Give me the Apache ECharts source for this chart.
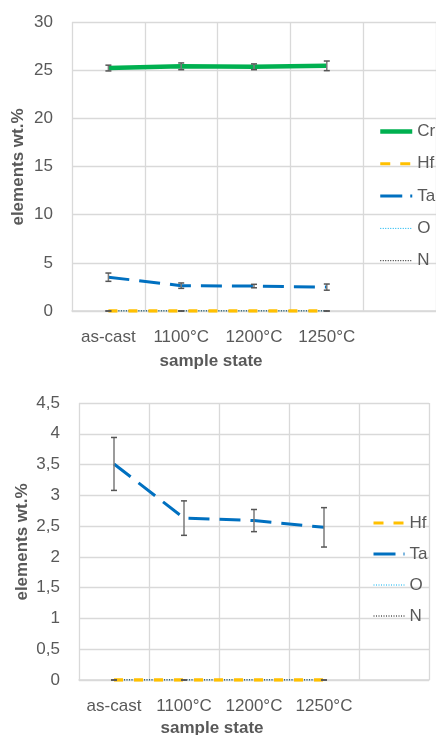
<!DOCTYPE html>
<html>
<head>
<meta charset="utf-8">
<script src="https://cdn.jsdelivr.net/npm/echarts@6/dist/echarts.min.js"></script>
<style>html,body{margin:0;padding:0;background:#fff;}#c{width:436px;height:735px;}</style>
</head>
<body>
<div id="c"></div>
<script>
const categories = ['as-cast', '1100°C', '1200°C', '1250°C', ''];
const cr = [25.22, 25.4, 25.35, 25.45];
const crErr = [0.3, 0.35, 0.3, 0.5];
const hf = [0, 0, 0, 0];
const ta = [3.51, 2.63, 2.59, 2.48];
const taErr = [0.43, 0.28, 0.18, 0.32];
const o = [0, 0, 0, 0];
const n = [0, 0, 0, 0];
const nErr = [0, 0, null, 0];
const yTicks1 = ['0', '5', '10', '15', '20', '25', '30'];
const yTicks2 = ['0', '0,5', '1', '1,5', '2', '2,5', '3', '3,5', '4', '4,5'];

const FONT = 'Liberation Sans';
const TXT = '#595959';
const GRID = '#D9D9D9';

function errData(vals, errs) {
  const out = [];
  vals.forEach((v, i) => { if (errs[i] !== null && errs[i] !== undefined) out.push([i, v, errs[i]]); });
  return out;
}
function renderErr(params, api) {
  const i = api.value(0), v = api.value(1), e = api.value(2);
  const p1 = api.coord([i, v + e]);
  const p2 = api.coord([i, v - e]);
  const hw = 3;
  const st = { stroke: '#7a7a7a', lineWidth: 1.5 };
  return {
    type: 'group',
    children: [
      { type: 'line', shape: { x1: p1[0], y1: p1[1], x2: p2[0], y2: p2[1] }, style: st },
      { type: 'line', shape: { x1: p1[0] - hw, y1: p1[1], x2: p1[0] + hw, y2: p1[1] }, style: { stroke: '#555', lineWidth: 1.5 } },
      { type: 'line', shape: { x1: p2[0] - hw, y1: p2[1], x2: p2[0] + hw, y2: p2[1] }, style: { stroke: '#555', lineWidth: 1.5 } }
    ]
  };
}
function xAxisCfg(gi, margin) {
  return {
    type: 'category', gridIndex: gi, data: categories, boundaryGap: true,
    axisLine: { lineStyle: { color: GRID, width: 1.5 } },
    axisTick: { show: false },
    axisLabel: { color: TXT, fontFamily: FONT, fontSize: 17, margin: margin, interval: 0 },
    splitLine: { show: true, lineStyle: { color: GRID, width: 1.3 } }
  };
}
function yAxisCfg(gi, max, interval, ticks) {
  return {
    type: 'value', gridIndex: gi, min: 0, max: max, interval: interval,
    axisLine: { show: false }, axisTick: { show: false },
    axisLabel: { color: TXT, fontFamily: FONT, fontSize: 17, margin: 19,
      formatter: v => ticks[Math.round(v / interval)] },
    splitLine: { lineStyle: { color: GRID, width: 1.3 } }
  };
}
function lineSeries(name, data, gi, style, z) {
  return {
    name: name, type: 'line', xAxisIndex: gi, yAxisIndex: gi, data: data,
    symbol: 'none', showSymbol: false, lineStyle: style, itemStyle: { color: style.color },
    animation: false, z: z || 2
  };
}
function errSeries(vals, errs, gi) {
  return {
    type: 'custom', xAxisIndex: gi, yAxisIndex: gi, data: errData(vals, errs),
    renderItem: renderErr, encode: { x: 0, y: 1 }, z: 5, animation: false, silent: true
  };
}
const sCr = { color: '#00B050', width: 4.5 };
const sHf = { color: '#FFC000', width: 3.5, type: [9, 11] };
const sTa = { color: '#0070C0', width: 3, type: [21, 10] };
const sO = { color: '#00B0F0', width: 1, type: [1, 1.5] };
const sN = { color: '#000000', width: 1, type: [1, 1.5] };

const legendText = { color: TXT, fontFamily: FONT, fontSize: 17 };
const legendCommon = {
  orient: 'vertical', itemHeight: 17, textStyle: legendText, selectedMode: false, padding: 0,
  itemStyle: { color: 'rgba(0,0,0,0)', borderWidth: 0, borderColor: 'rgba(0,0,0,0)' }
};
const legendItems = {
  Cr: { name: 'Cr', lineStyle: { width: 4.5, color: '#00B050' } },
  Hf: { name: 'Hf', lineStyle: { width: 3, color: '#FFC000', type: [10, 10] } },
  Ta: { name: 'Ta', lineStyle: { width: 3, color: '#0070C0', type: [22, 8, 2, 6] } },
  O: { name: 'O', lineStyle: { width: 1, color: '#00B0F0', type: [1, 1.5] } },
  N: { name: 'N', lineStyle: { width: 1, color: '#000000', type: [1, 1.5] } }
};

const option = {
  animation: false,
  grid: [
    { left: 72, top: 22, width: 364, height: 289 },
    { left: 79, top: 403, width: 350, height: 277 }
  ],
  xAxis: [xAxisCfg(0, 18), xAxisCfg(1, 18)],
  yAxis: [yAxisCfg(0, 30, 5, yTicks1), yAxisCfg(1, 4.5, 0.5, yTicks2)],
  legend: [
    Object.assign({ data: ['Cr', 'Hf', 'Ta', 'O', 'N'].map(k => legendItems[k]), left: 378, top: 123, itemWidth: 32, itemGap: 15.3 }, legendCommon),
    Object.assign({ data: ['Hf', 'Ta', 'O', 'N'].map(k => legendItems[k]), left: 372, top: 514.5, itemWidth: 31, itemGap: 14 }, legendCommon)
  ],
  series: [
    lineSeries('Cr', cr, 0, sCr),
    lineSeries('O', o, 0, sO),
    lineSeries('N', n, 0, sN),
    lineSeries('Hf', hf, 0, sHf, 3),
    lineSeries('Ta', ta, 0, sTa, 3),
    errSeries(cr, crErr, 0),
    errSeries(ta, taErr, 0),
    errSeries(n, nErr, 0),
    lineSeries('O', o, 1, sO),
    lineSeries('N', n, 1, sN),
    lineSeries('Hf', hf, 1, sHf, 3),
    lineSeries('Ta', ta, 1, sTa, 3),
    errSeries(ta, taErr, 1),
    errSeries(n, nErr, 1)
  ],
  graphic: [
    { type: 'text', x: 211, y: 361, style: { text: 'sample state', font: 'bold 17px "Liberation Sans"', fill: TXT, align: 'center', verticalAlign: 'middle' } },
    { type: 'text', x: 18, y: 167, rotation: Math.PI / 2, style: { text: 'elements wt.%', font: 'bold 17px "Liberation Sans"', fill: TXT, align: 'center', verticalAlign: 'middle' } },
    { type: 'text', x: 212, y: 728, style: { text: 'sample state', font: 'bold 17px "Liberation Sans"', fill: TXT, align: 'center', verticalAlign: 'middle' } },
    { type: 'text', x: 22, y: 542, rotation: Math.PI / 2, style: { text: 'elements wt.%', font: 'bold 17px "Liberation Sans"', fill: TXT, align: 'center', verticalAlign: 'middle' } }
  ]
};
const chart = echarts.init(document.getElementById('c'), null, { renderer: 'canvas' });
chart.setOption(option);
</script>
</body>
</html>
